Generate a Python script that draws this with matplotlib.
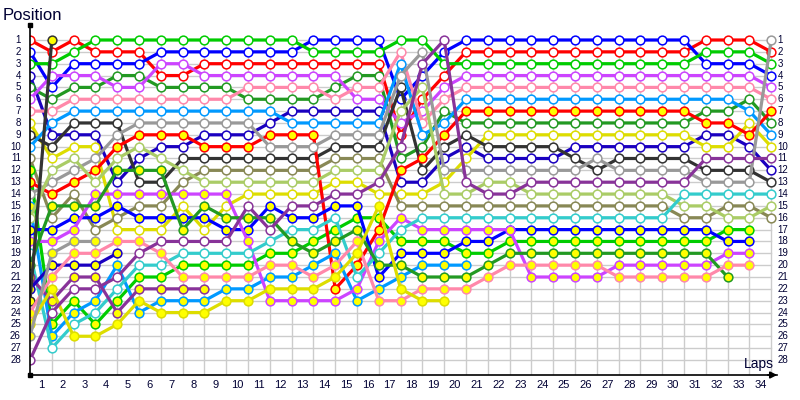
import matplotlib
matplotlib.use("Agg")
import matplotlib.pyplot as plt

# position per lap (lap 0 = grid), one list per car
red1 = [1, 2, 1, 2, 2, 2, 4, 4, 3, 3, 3, 3, 3, 3, 3, 3, 3, 9, 6, 4,
        2, 2, 2, 2, 2, 2, 2, 2, 2, 2, 2, 1, 1, 1, 2]
blue1 = [2, 5, 3, 3, 3, 3, 2, 2, 2, 2, 2, 2, 2, 1, 1, 1, 1, 6, 4, 2,
         1, 1, 1, 1, 1, 1, 1, 1, 1, 1, 1, 3, 3, 3, 4]
green1 = [3, 3, 2, 1, 1, 1, 1, 1, 1, 1, 1, 1, 1, 2, 2, 2, 2, 1, 1, 3,
          3, 3, 3, 3, 3, 3, 3, 3, 3, 3, 3, 2, 2, 2, 3]
navy1 = [4, 9, 9, 9, 13, 11, 10, 10, 9, 9, 9, 8, 7, 7, 7, 7, 7, 13, 13, 11,
         10, 11, 11, 11, 11, 10, 10, 10, 10, 10, 10, 9, 9, 10, 12]
dgreen1 = [5, 6, 5, 5, 4, 4, 5, 5, 5, 5, 6, 6, 6, 6, 5, 4, 4, 11, 10, 7,
           8, 8, 8, 8, 8, 8, 8, 8, 8, 8, 8, 7, 7, 6, 8]
violet1 = [6, 4, 4, 4, 5, 5, 3, 3, 4, 4, 4, 4, 4, 4, 4, 6, 6, 8, 7, 5,
           4, 4, 4, 4, 4, 4, 4, 4, 4, 4, 4, 4, 4, 4, 5]
pink1 = [7, 7, 6, 6, 6, 6, 6, 6, 6, 6, 5, 5, 5, 5, 6, 5, 5, 2, 8, 6,
         5, 5, 5, 5, 5, 5, 5, 5, 5, 5, 5, 5, 5, 5, 6]
yellow1 = [8, 11, 10, 10, 17, 17, 17, 15, 17, 15, 14, 14, 14, 14, 13, 13, 14, 14, 14, 13,
           11, 9, 9, 9, 9, 9, 9, 9, 9, 9, 9, 10, 10, 8, 10]
black1 = [9, 10, 8, 8, 8, 13, 13, 11, 11, 11, 11, 11, 11, 11, 10, 10, 10, 5, 12, 10,
          9, 10, 10, 10, 10, 11, 12, 11, 11, 11, 11, 12, 12, 12, 13]
sky1 = [10, 8, 7, 7, 7, 7, 7, 7, 7, 7, 7, 7, 8, 8, 8, 8, 8, 3, 9, 8,
        6, 6, 6, 6, 6, 6, 6, 6, 6, 6, 6, 6, 6, 7, 9]
olive1 = [11, 16, 14, 17, 16, 15, 15, 13, 12, 12, 12, 12, 12, 12, 11, 11, 11, 15, 15, 15,
          15, 15, 15, 15, 15, 15, 15, 15, 15, 15, 16, 16, 15, 15, 16]
green2 = [12, 25, 23, 25, 23, 21, 21, 20, 20, 20, 20, 19, 19, 18, 17, 16, 16, 18, 18, 18,
          19, 19, 18, 18, 18, 18, 18, 18, 18, 18, 18, 18, 17, 17]
red2 = [13, 14, 13, 12, 10, 9, 9, 9, 10, 10, 10, 9, 9, 9, 22, 20, 17, 12, 11, 9,
        7, 7, 7, 7, 7, 7, 7, 7, 7, 7, 7, 8, 8, 9, 7]
gray1 = [14, 13, 12, 11, 9, 8, 8, 8, 8, 8, 8, 10, 10, 10, 9, 9, 9, 4, 2, 12,
         12, 12, 12, 12, 12, 12, 11, 12, 12, 12, 12, 13, 13, 13, 1]
sky2 = [15, 26, 24, 23, 20, 24, 23, 23, 23, 22, 22, 21, 21, 20, 19, 23, 22, 21, 20, 20, 20]
lgreen1 = [16, 12, 11, 13, 11, 10, 11, 12, 13, 13, 13, 13, 13, 13, 12, 12, 12, 7, 5, 14,
           14, 13, 13, 14, 14, 14, 14, 14, 14, 14, 15, 15, 16, 16, 15]
blue2 = [17, 17, 16, 16, 15, 16, 16, 16, 16, 17, 17, 15, 16, 16, 15, 15, 21, 19, 19, 19,
         18, 18, 17, 17, 17, 17, 17, 17, 17, 17, 17, 17, 18, 18]
violet2 = [18, 18, 17, 14, 14, 14, 14, 14, 14, 14, 18, 23, 23, 23, 23, 22, 18, 16, 17, 17,
           17, 17, 17, 21, 21, 21, 21, 20, 20, 20, 20, 20, 19, 19]
cyan1 = [19, 27, 25, 24, 22, 20, 20, 19, 19, 19, 19, 18, 17, 17, 16, 21, 19, 17, 16, 16,
         16, 16, 16, 16, 16, 16, 16, 16, 16, 16, 14, 14, 14, 14, 14]
dgreen2 = [20, 15, 15, 15, 12, 12, 12, 17, 15, 16, 16, 16, 18, 19, 18, 17, 20, 20, 21, 21,
           21, 20, 19, 19, 19, 19, 19, 19, 19, 19, 19, 19, 21]
dpurple2 = [21, 23, 21, 21, 24, 22, 22, 22, 22]
navy2 = [22, 20, 20, 20, 19]
black2 = [23, 1]
pink2 = [24, 21, 19, 19, 18, 18, 19, 21, 21, 21, 21, 20, 20, 21, 20, 18, 23, 23, 22, 22,
         22, 21, 20, 20, 20, 20, 20, 21, 21, 21, 21, 21, 20, 20]
yellow2 = [25, 22, 26, 26, 25, 23, 24, 24, 24, 23, 23, 22, 22, 22, 21, 19, 15, 22, 23, 23]
gray2 = [26, 19, 18, 18]
dpurple1 = [28, 24, 22, 22, 21, 19, 18, 18, 18, 18, 15, 17, 15, 15, 14, 14, 13, 10, 3, 1,
            13, 14, 14, 13, 13, 13, 13, 13, 13, 13, 13, 11, 11, 11, 11]

cars = [red1, blue1, green1, navy1, dgreen1, violet1, pink1, yellow1, black1, sky1,
        olive1, green2, red2, gray1, sky2, lgreen1, blue2, violet2, cyan1, dgreen2,
        dpurple2, navy2, black2, pink2, yellow2, gray2, dpurple1]
colors = ['#ff0000', '#0000ff', '#00cc00', '#1a00c0', '#229922', '#cc44ff', '#ff88aa',
          '#dddd00', '#333333', '#0099ff', '#888855', '#00cc00', '#ff0000', '#999999',
          '#0099ff', '#aacc66', '#0000ff', '#cc44ff', '#33cccc', '#229922', '#883399',
          '#1a00c0', '#333333', '#ff88aa', '#dddd00', '#999999', '#883399']
yellow_fill = [False] * 11 + [True, True, False, True, False, True, True, False, True,
                              True, True, True, True, True, True, False]

n_laps = 34
n_pos = 28

fig = plt.figure(figsize=(8, 4), dpi=100)
ax = fig.add_axes([30 / 800, 25 / 400, 760 / 800, 350 / 400])
x_max = 760 / 21.8
y_top = 1 - 15 / 11.85
y_bot = 1 + 335 / 11.85
ax.set_xlim(0, x_max)
ax.set_ylim(y_bot, y_top)

# grid
for p in range(1, n_pos + 1):
    ax.plot([0, n_laps], [p, p], color='#cccccc', lw=1, zorder=1)
for k in range(1, n_laps + 1):
    ax.plot([k, k], [1, y_bot], color='#cccccc', lw=1, zorder=1)

for i, pos in enumerate(cars):
    laps = list(range(len(pos)))
    face = '#ffff00' if yellow_fill[i] else 'white'
    ax.plot(laps, pos, '-o', color=colors[i], lw=2.3, ms=6.3, mfc=face,
            mec=colors[i], mew=1.1, zorder=3 + i * 0.01)

# axes look
for s in ax.spines.values():
    s.set_visible(False)
ax.set_xticks([])
ax.set_yticks([])
ax.plot([0, 0], [y_top, y_bot], color='black', lw=1.2, zorder=5, clip_on=False)
ax.plot([0, 747 / 21.8], [y_bot, y_bot], color='black', lw=1.2, zorder=5, clip_on=False)
ax.plot([0], [y_top], 's', color='black', ms=2.5, clip_on=False)
ax.plot([0], [y_bot], 's', color='black', ms=2.5, clip_on=False)
ax.annotate('', xy=(750 / 21.8, y_bot), xytext=(735 / 21.8, y_bot),
            arrowprops=dict(arrowstyle='-|>', color='black', lw=1.2, mutation_scale=10),
            annotation_clip=False)

font = 'Liberation Sans'
for p in range(1, n_pos + 1):
    ax.text(-0.42, p, str(p), ha='right', va='center', fontsize=7,
            family=font, color='#000033')
    ax.text(n_laps + 0.3, p, str(p), ha='left', va='center', fontsize=7,
            family=font, color='#000033')
for k in range(1, n_laps + 1):
    ax.text(k - 0.5, y_bot + 0.85, str(k), ha='center', va='center', fontsize=8,
            family=font, color='#000033')

fig.text(3 / 800, 1 - 15 / 400, 'Position', ha='left', va='center', fontsize=12,
         family=font, color='#000033')
fig.text(744 / 800, 1 - 364 / 400, 'Laps', ha='left', va='center', fontsize=10,
         family=font, color='#000033')

fig.savefig('out.png', dpi=100)
